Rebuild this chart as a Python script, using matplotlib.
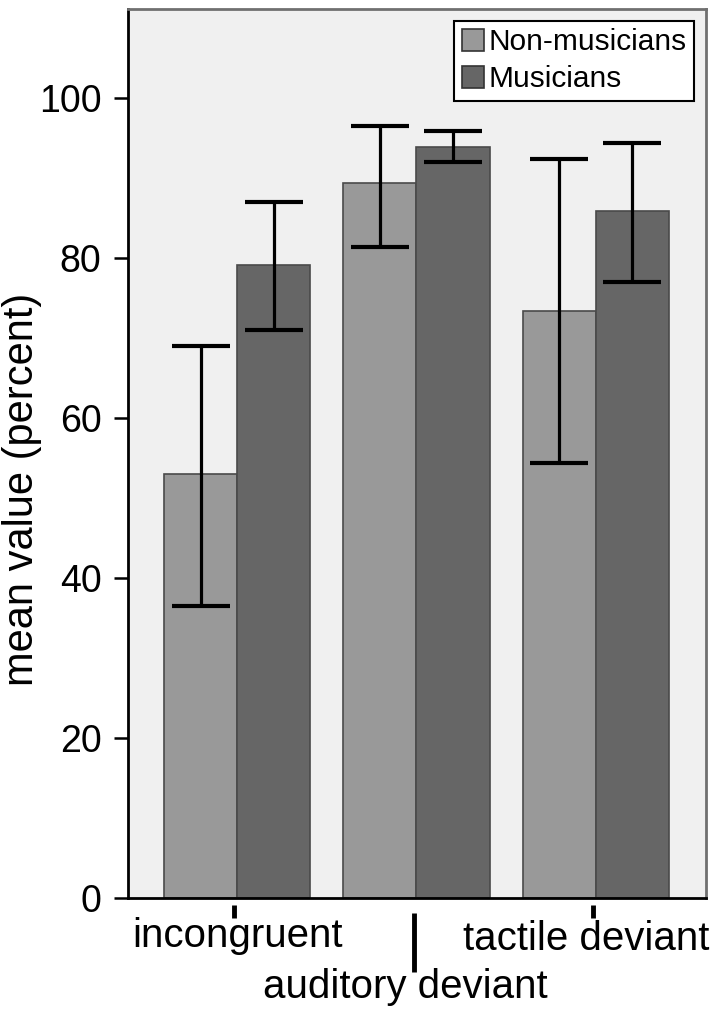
import matplotlib
matplotlib.use("Agg")
import matplotlib.pyplot as plt
import numpy as np

plt.rcParams['font.family'] = ['Liberation Sans', 'DejaVu Sans']

categories = ['incongruent', 'auditory deviant', 'tactile deviant']
groups = ['Non-musicians', 'Musicians']
means = {
    'Non-musicians': [53.0, 89.3, 73.3],
    'Musicians': [79.1, 93.9, 85.8],
}
err_low = {
    'Non-musicians': [36.5, 81.3, 54.4],
    'Musicians': [71.0, 92.0, 77.0],
}
err_high = {
    'Non-musicians': [69.0, 96.5, 92.4],
    'Musicians': [87.0, 95.8, 94.4],
}
colors = {'Non-musicians': '#999999', 'Musicians': '#666666'}

fig = plt.figure(figsize=(7.23, 10.18), dpi=100)
ax = fig.add_axes([128 / 723, 1 - 898 / 1018, 578 / 723, 889 / 1018])
ax.set_facecolor('#f0f0f0')

x = np.arange(len(categories))
w = 0.408
for i, g in enumerate(groups):
    pos = x + (i - 0.5) * w
    m = np.array(means[g])
    lo = m - np.array(err_low[g])
    hi = np.array(err_high[g]) - m
    ax.bar(pos, m, width=w, color=colors[g], edgecolor='#4a4a4a',
           linewidth=1.2, label=g, zorder=2)
    ax.errorbar(pos, m, yerr=[lo, hi], fmt='none', ecolor='black',
                elinewidth=2.3, capsize=21, capthick=3, zorder=3)

ax.set_xlim(-0.609, 2.615)
ax.set_ylim(0, 111.1)
ax.set_yticks([0, 20, 40, 60, 80, 100])
ax.tick_params(axis='y', labelsize=27, length=10, width=1.8, pad=9)
ax.set_ylabel('mean value (percent)', fontsize=30)
ax.yaxis.set_label_coords(-0.148, 0.46)

# staggered category labels with hand-drawn tick marks, as in the original
ax.set_xticks([])
xt = ax.get_xaxis_transform()
tick_spans = [(-0.008, -0.022), (-0.017, -0.083), (-0.008, -0.022)]
label_y = [-0.055, -0.1125, -0.0585]
label_dx = [0.0, -0.064, -0.056]
for k, cat in enumerate(categories):
    ax.plot([x[k] - 0.015, x[k] - 0.015], tick_spans[k], transform=xt,
            color='black', linewidth=3.5, clip_on=False, solid_capstyle='butt')
    ax.text(x[k] + label_dx[k], label_y[k], cat, transform=xt, fontsize=29,
            ha='center', va='baseline')

for s in ['left', 'bottom']:
    ax.spines[s].set_linewidth(2)
    ax.spines[s].set_color('black')
for s in ['top', 'right']:
    ax.spines[s].set_linewidth(2)
    ax.spines[s].set_color('#707070')

leg = ax.legend(loc='upper right', fontsize=21.5, frameon=True, fancybox=False,
                edgecolor='black', framealpha=1, borderpad=0.25,
                handlelength=0.75, handleheight=0.75, handletextpad=0.15,
                labelspacing=0.3, borderaxespad=0.4)
leg.get_frame().set_linewidth(1.5)
for h in leg.legend_handles:
    h.set_edgecolor('#333333')

fig.savefig('out.png', dpi=100)
